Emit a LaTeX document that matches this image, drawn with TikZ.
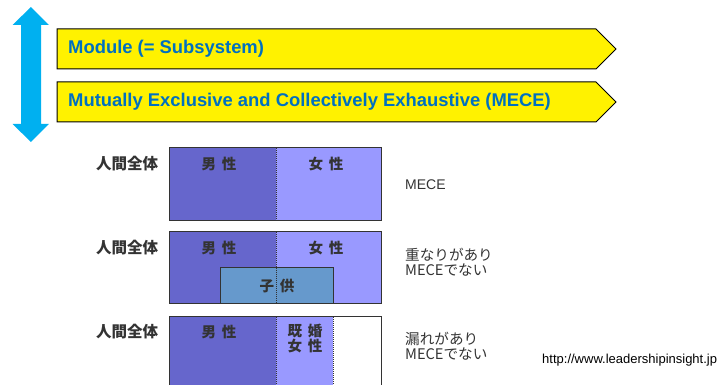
\documentclass[tikz,border=0pt]{standalone}
\usepackage{fontspec}
\setmainfont{Liberation Sans}
\newfontfamily\jp{Noto Sans CJK JP}
\definecolor{banblue}{HTML}{0070C0}
\definecolor{arrcyan}{HTML}{00B0F0}
\definecolor{male}{HTML}{6666CC}
\definecolor{female}{HTML}{9999FF}
\definecolor{child}{HTML}{6699CC}
\definecolor{txt}{HTML}{333333}
\begin{document}
\begin{tikzpicture}[x=1pt,y=-1pt,
  banner/.style={fill=yellow,draw=black,line width=1pt},
  bantext/.style={anchor=west,text=banblue,font=\fontsize{18.4}{20}\selectfont\bfseries,inner sep=0pt},
  region/.style={draw=txt,line width=1pt},
  divider/.style={draw=black!80,densely dotted,line width=1pt},
  lbl/.style={text=txt,font=\jp\fontsize{14.5}{15}\selectfont\bfseries,inner sep=0pt},
  side/.style={text=txt,anchor=west,align=left,font=\jp\fontsize{14.6}{15.5}\selectfont,inner sep=0pt}]
\useasboundingbox (0,0) rectangle (724,385);
% double arrow
\fill[arrcyan] (30.8,7) -- (49,25) -- (41,25) -- (41,124) -- (49,124) -- (30.8,142)
  -- (12.7,124) -- (21,124) -- (21,25) -- (12.7,25) -- cycle;
% banners
\path[banner] (57,29) -- (596,29) -- (616,49) -- (596,69) -- (57,69) -- cycle;
\path[banner] (57,82) -- (596,82) -- (616,102) -- (596,122) -- (57,122) -- cycle;
\node[bantext] (b1) at (68,49) {Module (= Subsystem)};
\node[bantext] (b2) at (68,102) {Mutually Exclusive and Collectively Exhaustive (MECE)};
% row 1
\fill[male] (169,148) rectangle (276,221);
\fill[female] (276,148) rectangle (381,221);
\draw[region] (169,148) rectangle (381,221);
\draw[divider] (276,148) -- (276,221);
\node[lbl,font=\jp\fontsize{15.5}{16}\selectfont\bfseries] (w1) at (127,164) {人間全体};
\node[lbl] (m1) at (219,164) {男\hspace{6pt}性};
\node[lbl] (f1) at (326,164) {女\hspace{6pt}性};
% row 2
\fill[male] (169,232) rectangle (276,304);
\fill[female] (276,232) rectangle (381,304);
\fill[child] (220,268) rectangle (333,304);
\draw[region] (220,268) rectangle (333,304);
\draw[region] (169,232) rectangle (381,304);
\draw[divider] (276,232) -- (276,304);
\node[lbl,font=\jp\fontsize{15.5}{16}\selectfont\bfseries] (w2) at (127,248) {人間全体};
\node[lbl] (m2) at (219,248) {男\hspace{6pt}性};
\node[lbl] (f2) at (326,248) {女\hspace{6pt}性};
\node[lbl] (c2) at (277,286) {子\hspace{6pt}供};
% row 3
\fill[male] (169,317) rectangle (276,392);
\fill[female] (276,317) rectangle (333,392);
\draw[region] (169,392) -- (169,317) -- (381,317) -- (381,392);
\draw[divider] (276,317) -- (276,392);
\draw[divider] (333,317) -- (333,392);
\node[lbl,font=\jp\fontsize{15.5}{16}\selectfont\bfseries] (w3) at (127,332) {人間全体};
\node[lbl] (m3) at (219,332) {男\hspace{6pt}性};
\node[lbl,align=center] (f3) at (305,339) {既\hspace{6pt}婚\\[0pt]女\hspace{6pt}性};
% right labels
\node[side,font=\fontsize{14}{15}\selectfont] (s1) at (405,185) {MECE};
\node[side] (s2) at (405,262) {重なりがあり\\MECEでない};
\node[side] (s3) at (405,346) {漏れがあり\\MECEでない};
\node[anchor=west,inner sep=0pt,font=\fontsize{13}{15}\selectfont,text=black] (url) at (542,360) {http://www.leadershipinsight.jp};
\end{tikzpicture}
\end{document}
